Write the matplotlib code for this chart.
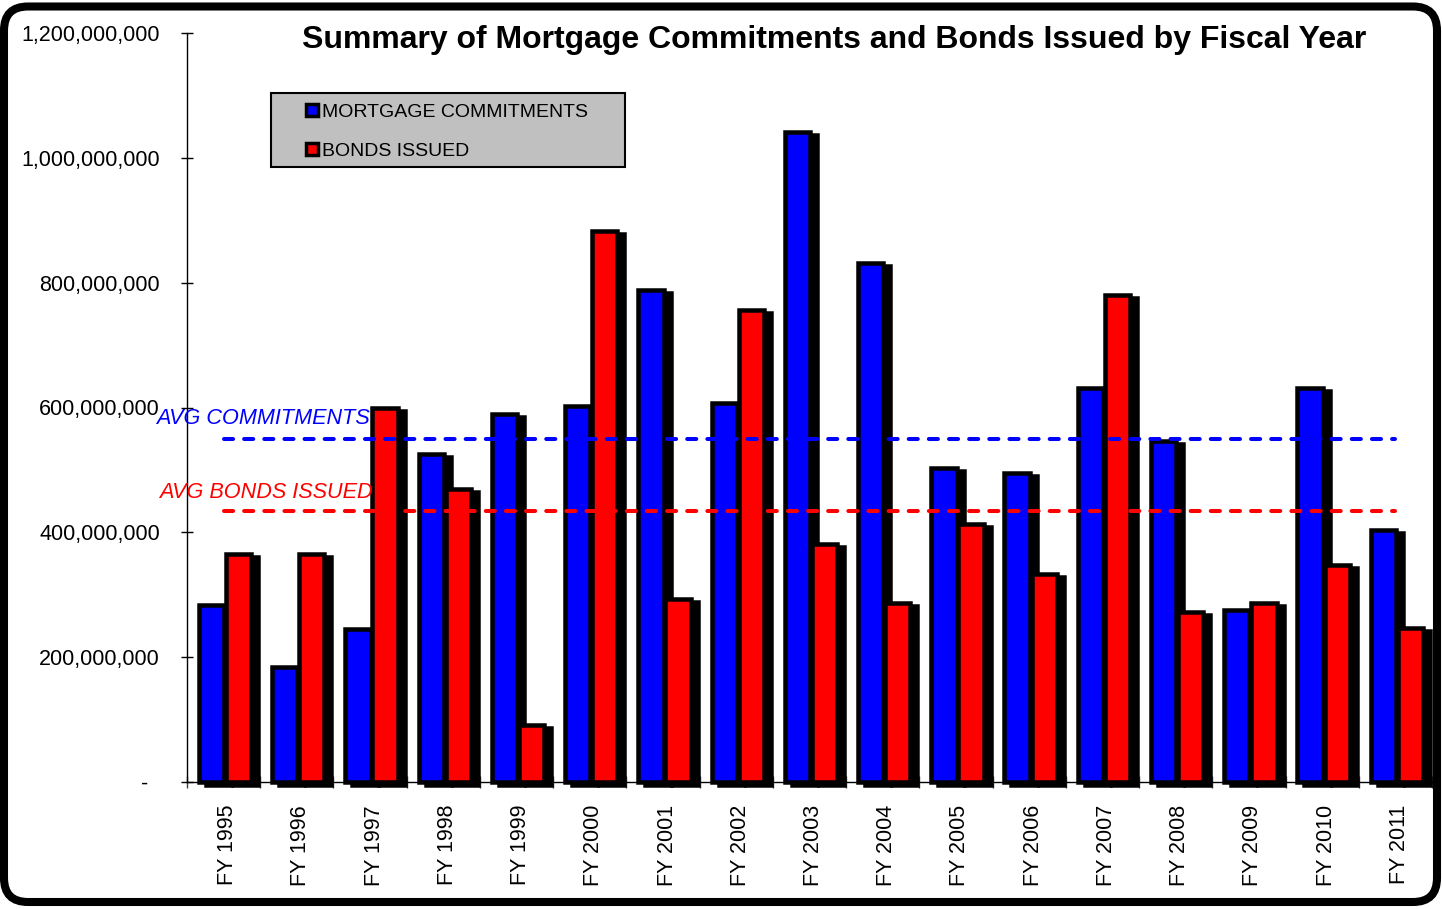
import numpy as np
import matplotlib
matplotlib.use("Agg")
import matplotlib.pyplot as plt
from matplotlib.patches import Patch, Rectangle, FancyBboxPatch
from matplotlib.transforms import ScaledTranslation, IdentityTransform
from matplotlib.ticker import FuncFormatter, MultipleLocator, FixedLocator

plt.rcParams['font.family'] = ['Liberation Sans', 'DejaVu Sans']

# data (dollars)
years = ["FY 1995", "FY 1996", "FY 1997", "FY 1998", "FY 1999", "FY 2000",
         "FY 2001", "FY 2002", "FY 2003", "FY 2004", "FY 2005", "FY 2006",
         "FY 2007", "FY 2008", "FY 2009", "FY 2010", "FY 2011"]
commitments = [283e6, 184e6, 245e6, 525e6, 589e6, 603e6, 789e6, 607e6, 1042e6,
               831e6, 503e6, 495e6, 632e6, 547e6, 275e6, 632e6, 403e6]
bonds = [366e6, 365e6, 600e6, 470e6, 92e6, 883e6, 293e6, 757e6, 382e6,
         287e6, 413e6, 333e6, 780e6, 273e6, 287e6, 348e6, 247e6]
avg_commitments = 550e6
avg_bonds = 434e6

fig = plt.figure(figsize=(14.42, 9.09), dpi=100)
ax = fig.add_axes([187/1442, 1-782/909, 1245/1442, 749/909])

x = np.arange(len(years))
w = 0.345
lw = 3.24  # ~4.5 px outline

# drop shadows: same bars shifted right / down
shift = ax.transData + ScaledTranslation(7/100, -3/100, fig.dpi_scale_trans)
for off, vals in [(-0.165, commitments), (0.205, bonds)]:
    sh = ax.bar(x + off, vals, w, color="black", edgecolor="black",
                linewidth=lw, zorder=2, clip_on=False)
    for p in sh:
        p.set_transform(shift)

ax.bar(x - 0.165, commitments, w, color="#0000FF", edgecolor="black",
       linewidth=lw, zorder=3, clip_on=False)
ax.bar(x + 0.205, bonds, w, color="#FF0000", edgecolor="black",
       linewidth=lw, zorder=3, clip_on=False)

# average lines
ax.plot([x[0], x[-1]], [avg_commitments]*2, color="#0000FF", lw=2.9,
        dashes=(2.25, 2.75), dash_capstyle="round", zorder=4)
ax.plot([x[0], x[-1]], [avg_bonds]*2, color="#FF0000", lw=2.9,
        dashes=(2.25, 2.75), dash_capstyle="round", zorder=4)
ax.annotate("AVG COMMITMENTS", (2.0, avg_commitments), xytext=(0, 20),
            textcoords="offset pixels", ha="right", va="center",
            color="#0000FF", fontsize=15.6, style="italic", zorder=5)
ax.annotate("AVG BONDS ISSUED", (2.04, avg_bonds), xytext=(0, 19),
            textcoords="offset pixels", ha="right", va="center",
            color="#FF0000", fontsize=15.6, style="italic", zorder=5)

ax.set_xlim(-0.5, len(years) - 0.5)
ax.set_ylim(0, 1.2e9)

ax.yaxis.set_major_locator(MultipleLocator(2e8))
ax.yaxis.set_major_formatter(FuncFormatter(lambda v, p: "-  " if v == 0 else f"{v:,.0f}"))
ax.tick_params(axis="y", direction="inout", length=8, width=1, pad=15.5,
               labelsize=15.5, colors="black")

ax.set_xticks(x)
ax.set_xticklabels(years, rotation=90, fontsize=15.5)
ax.tick_params(axis="x", which="major", length=0, pad=16.5)
nudge = ScaledTranslation(4/100, 0, fig.dpi_scale_trans)
for lbl in ax.get_xticklabels():
    lbl.set_transform(lbl.get_transform() + nudge)
ax.xaxis.set_minor_locator(FixedLocator(np.arange(-0.5, len(years), 1.0)))
ax.tick_params(axis="x", which="minor", direction="inout", length=8,
               width=1, color="#404040")

for s in ["top", "right"]:
    ax.spines[s].set_visible(False)
ax.spines["left"].set_linewidth(1)
ax.spines["bottom"].set_linewidth(1)
ax.set_facecolor("none")

# legend with a grey box behind it
ax.add_patch(Rectangle((271, 909-167), 354, 74, transform=IdentityTransform(),
                       facecolor="#C0C0C0", edgecolor="black", linewidth=1.5,
                       zorder=6, clip_on=False))
handles = [Patch(facecolor="#0000FF", edgecolor="black", linewidth=2.5),
           Patch(facecolor="#FF0000", edgecolor="black", linewidth=2.5)]
leg = ax.legend(handles, ["MORTGAGE COMMITMENTS", "BONDS ISSUED"],
                loc="upper left", bbox_to_anchor=(306/1442, 1-104/909),
                bbox_transform=fig.transFigure, frameon=False, fontsize=14,
                handlelength=0.6, handleheight=0.6, handletextpad=0.2,
                labelspacing=1.12, borderpad=0, borderaxespad=0)
leg.set_zorder(7)

fig.text(834/1442, 1-40/909,
         "Summary of Mortgage Commitments and Bonds Issued by Fiscal Year",
         ha="center", va="center", fontsize=23, fontweight="bold")

# rounded outer frame
fig.add_artist(FancyBboxPatch((4, 7), 1433, 895.5,
                              boxstyle="round,pad=0,rounding_size=24",
                              transform=IdentityTransform(), facecolor="none",
                              edgecolor="black", linewidth=5.8, zorder=10))

fig.savefig("out.png", dpi=100)
